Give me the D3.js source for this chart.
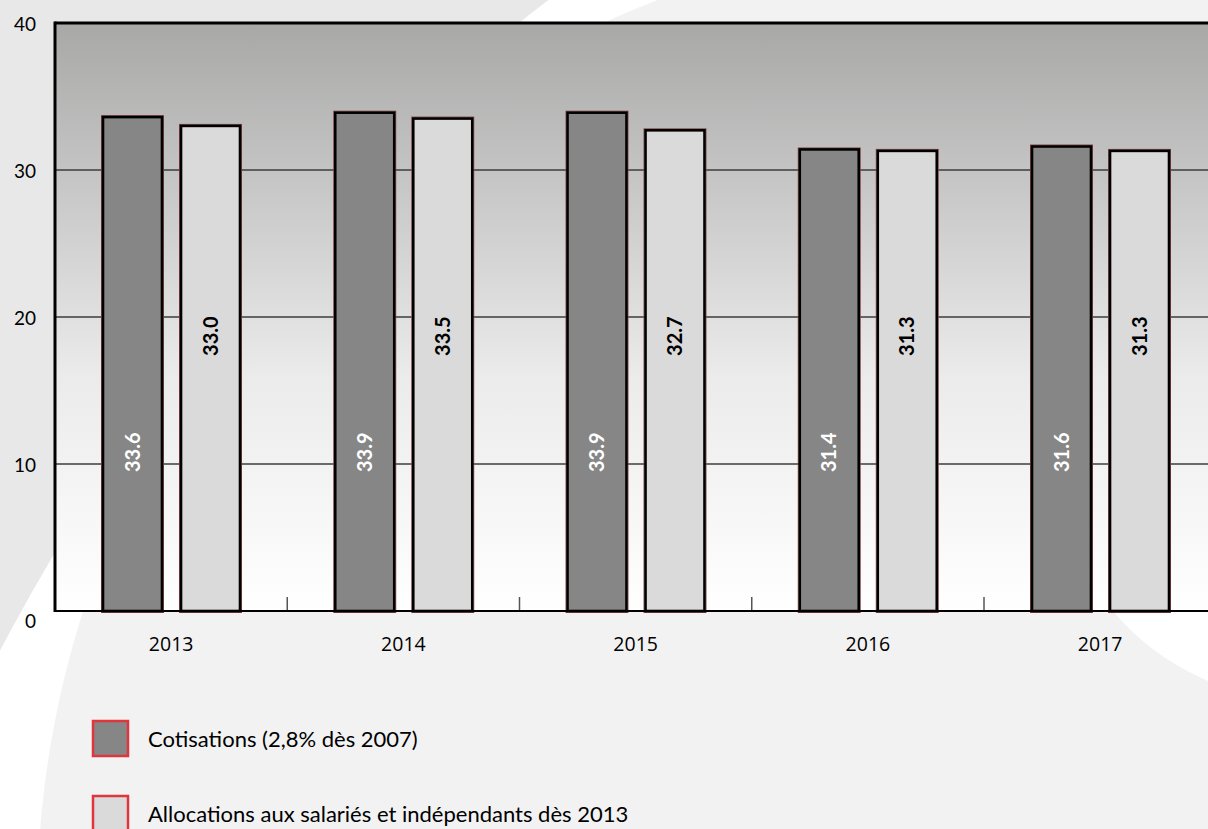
<!DOCTYPE html>
<html>
<head>
<meta charset="utf-8">
<script src="https://cdn.jsdelivr.net/npm/d3@7/dist/d3.min.js"></script>
<style>
  html, body { margin: 0; padding: 0; background: #f2f2f2; }
  svg { display: block; }
</style>
</head>
<body>
<svg id="chart" width="1208" height="829"></svg>
<script>
// Years shown on the category axis
const years = ["2013", "2014", "2015", "2016", "2017"];
// Series values (millions)
const cotisations = [33.6, 33.9, 33.9, 31.4, 31.6];
const allocations = [33.0, 33.5, 32.7, 31.3, 31.3];
// Legend labels for the two series
const seriesNames = ["Cotisations (2,8% dès 2007)", "Allocations aux salariés et indépendants dès 2013"];
// Y axis ticks
const yTicks = [0, 10, 20, 30, 40];

const W = 1208, H = 829;
const plot = { left: 55, top: 23, bottom: 611, right: 55 + 5 * 232.25 };

const svg = d3.select("#chart");
const defs = svg.append("defs");

// Plot background gradient (grey at top, white at the base)
const grad = defs.append("linearGradient")
  .attr("id", "plotBg").attr("x1", 0).attr("y1", 0).attr("x2", 0).attr("y2", 1);
[[0, "#a8a8a7"], [0.25, "#c4c4c4"], [0.6, "#ebebeb"], [1, "#ffffff"]]
  .forEach(([o, c]) => grad.append("stop").attr("offset", o).attr("stop-color", c));

// Page background: grey corner, white sweeping band, light disc
const bg = svg.append("g");
bg.append("rect").attr("width", W).attr("height", H).attr("fill", "#e8e8e8");
bg.append("circle").attr("cx", 1731).attr("cy", 1553).attr("r", 1952).attr("fill", "#ffffff");
bg.append("circle").attr("cx", 1010).attr("cy", 907).attr("r", 973).attr("fill", "#f2f2f2");
bg.append("path").attr("d", "M1113,611 Q1150,656 1208,681 L1208,560 L1113,560 Z").attr("fill", "#ffffff");

// Scales
const x0 = d3.scaleBand().domain(years).range([plot.left, plot.right]).padding(0);
const x1 = d3.scaleBand().domain([0, 1]).range([48, 185]).paddingInner(0.244).paddingOuter(0);
const y = d3.scaleLinear().domain([0, 40]).range([plot.bottom, plot.top]);

// Plot area
svg.append("rect")
  .attr("x", plot.left).attr("y", plot.top)
  .attr("width", plot.right - plot.left).attr("height", plot.bottom - plot.top)
  .attr("fill", "url(#plotBg)");

// Horizontal gridlines
svg.append("g").selectAll("line").data(yTicks.filter(t => t > 0 && t < 40)).join("line")
  .attr("x1", plot.left).attr("x2", plot.right)
  .attr("y1", d => y(d)).attr("y2", d => y(d))
  .attr("stroke", "#3c3c3c").attr("stroke-width", 1.5);

// Category separator ticks on the base line
svg.append("g").selectAll("line").data(years.slice(1)).join("line")
  .attr("x1", d => x0(d)).attr("x2", d => x0(d))
  .attr("y1", plot.bottom - 14).attr("y2", plot.bottom)
  .attr("stroke", "#555").attr("stroke-width", 1.5);

// Bars
const series = [
  { values: cotisations, fill: "#868686", text: "#ffffff", labelAt: 10.8 },
  { values: allocations, fill: "#dadada", text: "#000000", labelAt: 18.7 }
];
const groups = svg.append("g").selectAll("g").data(years).join("g")
  .attr("transform", d => `translate(${x0(d)},0)`);

series.forEach((s, si) => {
  const bw = x1.bandwidth();
  groups.append("rect")
    .attr("x", x1(si) - 1.5).attr("y", (d, i) => y(s.values[i]) - 1.5)
    .attr("width", bw + 3).attr("height", (d, i) => y(0) - y(s.values[i]) + 3)
    .attr("fill", "none").attr("stroke", "#8a4848").attr("stroke-width", 1);
  groups.append("rect")
    .attr("x", x1(si)).attr("y", (d, i) => y(s.values[i]))
    .attr("width", bw).attr("height", (d, i) => y(0) - y(s.values[i]))
    .attr("fill", s.fill).attr("stroke", "#000").attr("stroke-width", 2.6);
  groups.append("text")
    .attr("transform", () => `translate(${x1(si) + bw / 2},${y(s.labelAt)}) rotate(-90)`)
    .attr("text-anchor", "middle").attr("dy", "0.36em")
    .attr("font-family", "Lato, 'Open Sans', sans-serif").attr("font-weight", "bold")
    .attr("font-size", 20).attr("fill", s.text)
    .text((d, i) => s.values[i].toFixed(1));
});

// Plot frame: top, left and base lines
svg.append("line").attr("x1", plot.left).attr("x2", plot.right).attr("y1", plot.top).attr("y2", plot.top)
  .attr("stroke", "#000").attr("stroke-width", 3);
svg.append("line").attr("x1", plot.left).attr("x2", plot.left).attr("y1", plot.top - 1.5).attr("y2", plot.bottom + 1)
  .attr("stroke", "#000").attr("stroke-width", 3);
svg.append("line").attr("x1", plot.left).attr("x2", plot.right).attr("y1", plot.bottom).attr("y2", plot.bottom)
  .attr("stroke", "#000").attr("stroke-width", 2);

// Y axis labels
const yAxis = d3.axisLeft(y).tickValues(yTicks).tickSize(0).tickPadding(19).tickFormat(d3.format("d"));
const yg = svg.append("g").attr("transform", `translate(${plot.left},0)`).call(yAxis);
yg.select(".domain").remove();
yg.selectAll("text").attr("font-family", "Lato, sans-serif").attr("font-size", 19).attr("fill", "#000")
  .attr("dy", d => d === 0 ? "0.85em" : "0.4em");

// X axis labels
const xAxis = d3.axisBottom(x0).tickSize(0).tickPadding(26);
const xg = svg.append("g").attr("transform", `translate(0,${plot.bottom})`).call(xAxis);
xg.select(".domain").remove();
xg.selectAll("text").attr("font-family", "'Open Sans', sans-serif").attr("font-size", 19.5).attr("fill", "#000");

// Legend
const legend = svg.append("g").selectAll("g").data(seriesNames).join("g")
  .attr("transform", (d, i) => `translate(93,${721 + i * 75})`);
legend.append("rect").attr("width", 35).attr("height", 35)
  .attr("fill", (d, i) => series[i].fill).attr("stroke", "#e0353d").attr("stroke-width", 2.5);
legend.append("text").attr("x", 55).attr("y", 18).attr("dy", "0.35em")
  .attr("font-family", "Lato, sans-serif").attr("font-size", 22).attr("fill", "#000")
  .text(d => d);
</script>
</body>
</html>
